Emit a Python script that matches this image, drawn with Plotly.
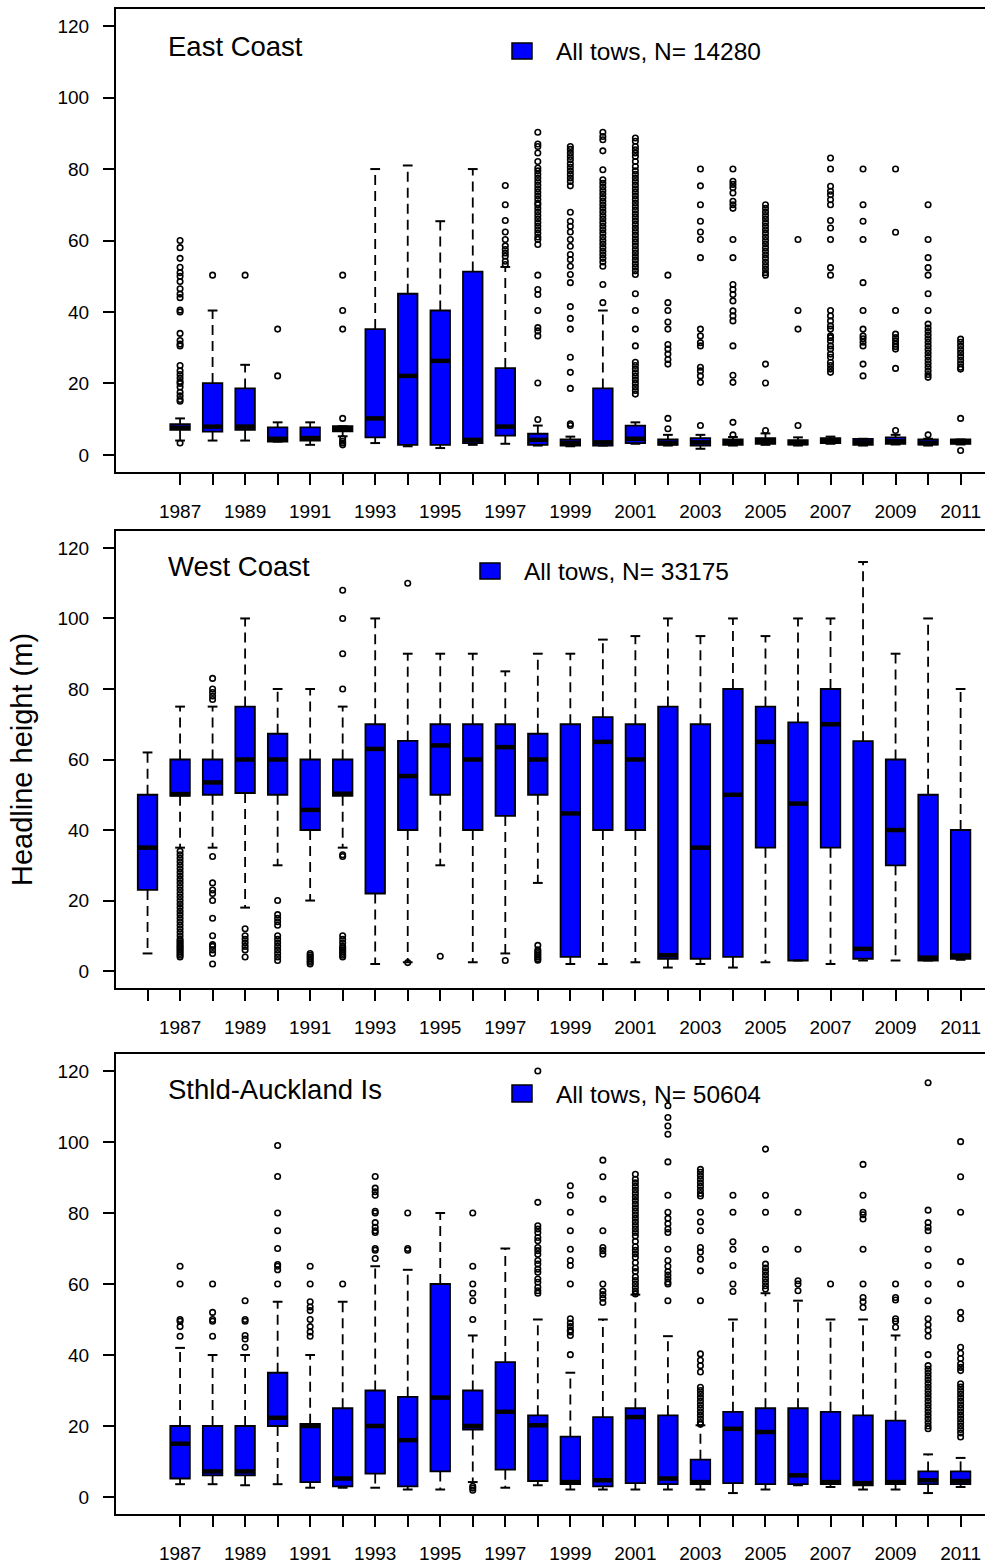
import plotly.graph_objects as go

W, H = 985, 1566

# ---------------- East Coast ----------------
ec_years = [1987, 1988, 1989, 1990, 1991, 1992, 1993, 1994, 1995, 1996, 1997, 1998, 1999,
            2000, 2001, 2002, 2003, 2004, 2005, 2006, 2007, 2008, 2009, 2010, 2011]
ec_q1 = [7.0, 6.5, 7.0, 3.7, 4.0, 6.6, 4.9, 2.8, 2.8, 3.3, 5.4, 2.8, 2.6,
         2.6, 3.3, 2.8, 2.6, 2.8, 3.1, 2.9, 3.3, 2.8, 3.1, 2.9, 3.1]
ec_med = [7.6, 7.9, 7.9, 4.5, 4.7, 7.2, 10.2, 22.1, 26.3, 4.2, 7.9, 4.2, 3.3,
          3.5, 4.5, 3.3, 3.5, 3.5, 3.8, 3.3, 4.0, 3.5, 3.8, 3.3, 3.6]
ec_q3 = [8.6, 20.1, 18.6, 7.7, 7.7, 8.0, 35.2, 45.1, 40.4, 51.3, 24.3, 5.9, 4.3,
         18.6, 8.2, 4.3, 4.7, 4.3, 4.7, 4.1, 4.7, 4.5, 4.9, 4.3, 4.3]
ec_lo = [4.0, 4.0, 4.0, 3.7, 2.8, 5.2, 3.3, 2.4, 1.9, 2.8, 3.1, 2.6, 2.4,
         2.6, 3.1, 2.6, 1.7, 2.6, 2.8, 2.6, 3.1, 2.6, 2.9, 2.6, 2.9]
ec_hi = [10.2, 40.4, 25.2, 9.1, 9.1, 8.0, 80.0, 81.0, 65.4, 80.0, 52.6, 8.2, 5.1,
         40.4, 9.1, 5.6, 5.6, 5.0, 6.0, 4.9, 5.1, 4.5, 5.6, 4.5, 4.3]
ec_out = [
    [60, 58, 55, 52.5, 51, 50, 48.5, 46.5, 45, 44, 40.5, 40, 34, 32, 31, 30.5, 25, 23.5,
     22.5, 21.5, 20.5, 20, 19, 17.5, 16.5, 15.5, 15, 3.3],
    [50.3],
    [50.3],
    [35.2, 22.1],
    [],
    [50.3, 40.4, 35.2, 10.2, 4.5, 3.8, 3.3, 2.8],
    [], [], [], [],
    [75.4, 70.0, 65.6, 62.4, 60.3, 58.5, 57.5, 56.5, 55.6, 54.2, 53.3],
    [90.3, 87.0, 86.3, 84.5, 82.1, 80.3, 79.5, 78.5, 77.5, 76.5, 75.5, 74.5, 73.5, 72.5,
     71.5, 70.5, 70, 69, 68, 67, 66, 65, 64, 63, 62, 61, 60.3, 58.9, 50.3, 46.3, 44.9,
     40.4, 35.6, 34.7, 33.3, 20.1, 9.9],
    [86.3, 85.5, 84.5, 83.5, 82.6, 81.5, 80.5, 79.5, 78.5, 77.5, 76.5, 75.3, 67.9, 65.4,
     64, 62.4, 60.3, 58.4, 56.1, 54.7, 52.8, 50.5, 48.2, 41.5, 38.2, 35.2, 27.3, 23.1,
     18.6, 8.7, 8.2],
    [90.3, 89.1, 88.2, 85.1, 79.8, 77, 76, 75, 74, 73, 72, 71, 70, 69, 68, 67, 66, 65,
     64, 63, 62, 61, 60, 59, 58, 57, 56, 55, 54, 52.8, 47.7, 42.6],
    [88.7, 87.8, 86.3, 85.4, 84.5, 83.5, 82.1, 80.7, 79.5, 78.5, 77.5, 76.5, 75.5, 74.5,
     73.5, 72.5, 71.5, 70.5, 69.5, 68.5, 67.5, 66.5, 65.5, 64.5, 63.5, 62.5, 61.5, 60.5,
     59.5, 58.5, 57.5, 56.5, 55.5, 54.5, 53.5, 52.5, 51.5, 50.5, 45.1, 40.4, 35.2, 30.5,
     25.9, 25, 24, 23, 22, 21, 20, 19, 18, 17],
    [50.3, 42.6, 40.4, 37.2, 35.2, 30.9, 29.6, 28.2, 26.7, 25.4, 10.2, 7.3],
    [80, 75.3, 70, 65.4, 62.4, 60.3, 55.2, 35.2, 33.3, 31.4, 30.5, 24.5, 23.5, 22.1,
     20.3, 8.2],
    [80, 76.6, 75.7, 74.8, 73.3, 71, 70, 69, 60.3, 55.2, 47.7, 46.3, 44.9, 43.1, 40.3,
     38.9, 37.5, 30.5, 22.3, 20.3, 9.1, 5.6],
    [70, 69, 68, 67, 66, 65, 64, 63, 62, 61, 60, 59, 58, 57, 56, 55, 54, 53, 52, 51,
     50.3, 25.4, 20.1, 6.8],
    [60.3, 40.4, 35.2, 8.2],
    [83.1, 80, 75.2, 73.8, 72.8, 71.4, 70, 65.6, 63.5, 60.3, 52.4, 50.3, 40.4, 38.9,
     37.5, 36.1, 35.2, 33.3, 32.8, 31.9, 30.5, 29.6, 28.2, 27.3, 25.9, 25, 24, 23.1],
    [80, 70, 65.4, 60.3, 48.2, 40.4, 35.2, 33.3, 32.5, 31.5, 30.5, 25.4, 22.1],
    [80, 62.3, 40.4, 33.8, 32.8, 31.9, 31, 30.3, 29.6, 24.2, 6.8],
    [70, 60.3, 55.2, 52.4, 50.3, 45.1, 40.4, 36.6, 35.5, 34.5, 33.5, 32.5, 31.5, 30.5,
     29.5, 28.5, 27.5, 26.5, 25.5, 24.5, 23.5, 22.5, 21.7, 5.6],
    [32.4, 31.5, 30.5, 29.5, 28.5, 27.5, 26.5, 25.5, 24.5, 24, 10.2, 1.2],
]

# ---------------- West Coast ----------------
wc_years = [1986, 1987, 1988, 1989, 1990, 1991, 1992, 1993, 1994, 1995, 1996, 1997, 1998,
            1999, 2000, 2001, 2002, 2003, 2004, 2005, 2006, 2007, 2008, 2009, 2010, 2011]
wc_q1 = [23.0, 49.7, 50.0, 50.5, 50.0, 40.0, 49.7, 22.0, 40.0, 50.0, 40.0, 44.0, 50.0,
         4.0, 40.0, 40.0, 3.5, 3.5, 4.0, 35.0, 3.0, 35.0, 3.5, 30.0, 3.0, 3.5]
wc_med = [35.0, 50.2, 53.5, 60.0, 60.0, 45.7, 50.3, 63.0, 55.3, 64.0, 60.0, 63.5, 60.0,
          44.7, 65.0, 60.0, 4.5, 35.0, 50.0, 65.0, 47.5, 70.0, 6.3, 40.0, 3.8, 4.4]
wc_q3 = [50.0, 60.0, 60.0, 75.0, 67.3, 60.0, 60.0, 70.0, 65.3, 70.0, 70.0, 70.0, 67.3,
         70.0, 72.0, 70.0, 75.0, 70.0, 80.0, 75.0, 70.5, 80.0, 65.2, 60.0, 50.0, 40.0]
wc_lo = [5.0, 35.0, 35.0, 18.0, 30.0, 20.0, 35.0, 2.0, 2.5, 30.0, 2.5, 5.0, 25.0,
         2.0, 2.0, 2.5, 1.0, 2.0, 1.0, 2.5, 3.0, 2.0, 3.0, 3.0, 3.0, 3.2]
wc_hi = [62, 75, 75, 100, 80, 80, 75, 100, 90, 90, 90, 85, 90,
         90, 94, 95, 100, 95, 100, 95, 100, 100, 116, 90, 100, 80]
wc_out = [
    [],
    [34, 33, 32, 31, 30, 29, 28, 27, 26, 25, 24, 23, 22, 21, 20, 19, 18, 17, 16, 15, 14,
     13, 12, 11, 10, 9, 8.5, 8, 7.5, 7, 6.5, 6, 5.5, 5, 4.5, 4],
    [83, 80, 79, 78, 77, 32.5, 25, 23, 22, 20, 15, 10, 7.5, 7, 6, 5, 2],
    [12, 10, 9, 8, 7, 6, 4],
    [20, 16, 15, 14, 13, 10, 9, 8, 7, 6, 5, 4, 3],
    [5, 4.5, 4, 3.5, 3, 2.5, 2],
    [108, 100, 90, 80, 33, 32.5, 10, 9, 8, 7, 6.5, 6, 5.5, 5, 4.5, 4],
    [],
    [110, 2.4],
    [4.2],
    [],
    [3.0],
    [7.3, 6, 5.5, 5, 4.5, 4, 3.5, 3.1],
    [], [], [], [], [], [], [], [], [], [], [], [], [],
]

# ---------------- Sthld-Auckland Is ----------------
sa_years = [1987, 1988, 1989, 1990, 1991, 1992, 1993, 1994, 1995, 1996, 1997, 1998, 1999,
            2000, 2001, 2002, 2003, 2004, 2005, 2006, 2007, 2008, 2009, 2010, 2011]
sa_q1 = [5.2, 6.1, 6.1, 20.0, 4.2, 3.0, 6.6, 3.0, 7.2, 19.0, 7.7, 4.5, 3.6,
         3.0, 3.9, 3.6, 3.6, 3.9, 3.6, 3.6, 3.6, 3.3, 3.6, 3.6, 3.6]
sa_med = [15.0, 7.2, 7.2, 22.3, 20.0, 5.2, 20.0, 16.0, 28.0, 20.0, 24.0, 20.2, 4.2,
          4.7, 22.5, 5.2, 4.2, 19.2, 18.3, 6.1, 4.2, 3.9, 4.2, 4.7, 4.5]
sa_q3 = [20.0, 20.0, 20.0, 35.0, 20.6, 25.0, 30.0, 28.2, 60.0, 30.0, 38.0, 23.0, 17.0,
         22.5, 25.0, 23.0, 10.5, 24.0, 25.0, 25.0, 24.0, 23.0, 21.5, 7.2, 7.2]
sa_lo = [3.6, 3.6, 3.3, 3.6, 2.6, 2.6, 2.6, 2.1, 2.1, 4.2, 2.6, 3.3, 2.1,
         2.1, 2.1, 2.1, 2.1, 1.1, 2.1, 3.3, 2.8, 2.1, 2.1, 1.1, 2.8]
sa_hi = [42, 40, 40, 55, 40, 55, 65, 64, 80, 45.5, 70, 50, 35,
         50, 57, 45.3, 20.2, 50, 57.4, 55.3, 50, 50, 45.5, 12, 11]
sa_out = [
    [65, 60, 50, 49.5, 48, 45.3],
    [60, 52, 50, 49.5, 45.3],
    [55.3, 50, 49.5, 45.5, 44.5, 42.2],
    [99, 90.3, 80, 75, 70, 65.5, 65, 64, 60],
    [65, 60, 55, 53.5, 52.5, 50, 48, 46.5, 45.3],
    [60],
    [90.3, 87, 86, 85, 80.5, 80, 77.3, 76, 75, 74.5, 70, 69.5, 67.2],
    [80, 70, 69.5],
    [],
    [80, 65, 60, 57.4, 55.3, 50, 3.0, 2.5, 1.9],
    [],
    [120, 83, 76.4, 75.5, 74.5, 73.1, 72.2, 70.3, 69.4, 68.4, 66.6, 65.6, 64.2, 63.3,
     61.4, 60.5, 59.1, 58.1, 57.4],
    [87.7, 85, 80.2, 75, 69.8, 66.6, 65.2, 60, 50.2, 49, 48, 47, 46.5, 45.5, 40.1],
    [94.9, 90.2, 83.9, 75, 70.3, 69.4, 68.4, 60, 58, 57, 56, 54.8],
    [90.9, 89.5, 88.5, 87.5, 86.5, 85.5, 84.5, 83.5, 82.5, 81.5, 80.5, 79.5, 78.5, 77.5,
     76.5, 75.5, 74.5, 73.5, 72, 70.5, 69.5, 68.5, 67.5, 66, 64.5, 63.5, 62, 61, 60, 59,
     58, 57.2],
    [110.2, 106.9, 104.5, 102.2, 94.4, 85, 80.2, 78.5, 77, 75.5, 74.5, 69.8, 66.6, 65,
     63.5, 62.5, 61.5, 60.5, 60, 55.3],
    [92.3, 91.5, 90.5, 89.5, 88.5, 87.5, 86.5, 85.5, 84.8, 80.2, 77.5, 75, 70.3, 69, 67,
     63.7, 55.3, 40.3, 38.5, 37, 35.2, 30.9, 30, 29, 28, 27, 26, 25, 24, 23, 22, 21, 20.5],
    [85, 80.2, 71.9, 69.8, 65.2, 60, 57.9],
    [98, 85, 80.2, 69.8, 65.6, 64.5, 63.5, 62.5, 61.5, 60.5, 59.5, 58.6],
    [80.2, 69.8, 60.9, 60, 58.1],
    [60],
    [93.7, 85, 80.2, 79.5, 78.3, 69.8, 60, 56.2, 55, 53.4],
    [60, 56.2, 55.5, 50.2, 49.5, 47.8],
    [116.7, 80.8, 77.3, 76, 75, 69.8, 65.2, 60, 55.3, 50.2, 48.5, 47, 45.3, 40.1, 37, 36,
     35, 34, 33, 32, 31, 30, 29, 28, 27, 26, 25, 24, 23, 22, 21, 20, 19.2],
    [100.1, 90.2, 80.2, 66.3, 60, 52, 50.2, 42.2, 40.5, 39, 37.5, 36.5, 35.6, 31.9, 31,
     30, 29, 28, 27, 26, 25, 24, 23, 22, 21, 20, 19, 18, 16.9],
]

panel_titles = ["East Coast", "West Coast", "Sthld-Auckland Is"]
legend_texts = ["All tows, N= 14280", "All tows, N= 33175", "All tows, N= 50604"]
y_title = "Headline height (m)"
y_ticks = [0, 20, 40, 60, 80, 100, 120]

FONT = "Liberation Sans, Arial, sans-serif"
BLUE = "#0000FF"
BOXW = 0.6
STAPLE = 0.15

panels = [
    (ec_years, ec_q1, ec_med, ec_q3, ec_lo, ec_hi, ec_out),
    (wc_years, wc_q1, wc_med, wc_q3, wc_lo, wc_hi, wc_out),
    (sa_years, sa_q1, sa_med, sa_q3, sa_lo, sa_hi, sa_out),
]

# pixel geometry of each panel frame (top, bottom)
frames = [(9, 472), (531, 988), (1054, 1514)]
x_left_px = 116


def py(p):
    return 1 - p / H


def px(p):
    return p / W


fig = go.Figure()
layout = dict(
    width=W, height=H, margin=dict(l=0, r=0, t=0, b=0),
    paper_bgcolor="white", plot_bgcolor="white", showlegend=False,
    font=dict(family=FONT, color="black"),
)

annotations = []
shapes = []

for i, (yrs, q1, med, q3, lo, hi, outs) in enumerate(panels):
    n = i + 1
    xa = "x" if n == 1 else f"x{n}"
    ya = "y" if n == 1 else f"y{n}"

    # whiskers (dashed)
    wx, wy = [], []
    for k, yr in enumerate(yrs):
        wx += [yr, yr, None, yr, yr, None]
        wy += [q3[k], hi[k], None, q1[k], lo[k], None]
    fig.add_trace(go.Scatter(x=wx, y=wy, mode="lines", xaxis=xa, yaxis=ya,
                             line=dict(color="black", width=1.8, dash="10px,6px"),
                             hoverinfo="skip"))
    # staples
    sx, sy = [], []
    for k, yr in enumerate(yrs):
        sx += [yr - STAPLE, yr + STAPLE, None, yr - STAPLE, yr + STAPLE, None]
        sy += [hi[k], hi[k], None, lo[k], lo[k], None]
    fig.add_trace(go.Scatter(x=sx, y=sy, mode="lines", xaxis=xa, yaxis=ya,
                             line=dict(color="black", width=2), hoverinfo="skip"))
    # boxes
    fig.add_trace(go.Bar(x=yrs, base=q1, y=[b - a for a, b in zip(q1, q3)],
                         width=BOXW, xaxis=xa, yaxis=ya,
                         marker=dict(color=BLUE, line=dict(color="black", width=1.8)),
                         hoverinfo="skip"))
    # medians
    mx, my = [], []
    for k, yr in enumerate(yrs):
        mx += [yr - BOXW / 2, yr + BOXW / 2, None]
        my += [med[k], med[k], None]
    fig.add_trace(go.Scatter(x=mx, y=my, mode="lines", xaxis=xa, yaxis=ya,
                             line=dict(color="black", width=4.5), hoverinfo="skip"))
    # outliers
    ox, oy = [], []
    for k, yr in enumerate(yrs):
        for v in outs[k]:
            ox.append(yr)
            oy.append(v)
    fig.add_trace(go.Scatter(x=ox, y=oy, mode="markers", xaxis=xa, yaxis=ya,
                             marker=dict(symbol="circle-open", size=5.5, color="black",
                                         line=dict(width=1.6, color="black")),
                             hoverinfo="skip"))

    top, bot = frames[i]
    ticktext = [str(y) if y % 2 == 1 else "" for y in yrs]
    xkey = "xaxis" if n == 1 else f"xaxis{n}"
    ykey = "yaxis" if n == 1 else f"yaxis{n}"
    layout[xkey] = dict(
        domain=[px(x_left_px), 1.0], anchor=ya, range=[1985.03, 2011.75],
        tickmode="array", tickvals=yrs, ticktext=ticktext,
        ticks="outside", ticklen=11, tickwidth=2, tickcolor="black",
        showline=True, linewidth=2, linecolor="black", mirror=True,
        showgrid=False, zeroline=False,
        tickfont=dict(size=19, family=FONT, color="black"),
        ticklabelstandoff=10, automargin=False, fixedrange=True,
    )
    layout[ykey] = dict(
        domain=[py(bot), py(top)], anchor=xa, range=[-4.8, 124.8],
        tickmode="array", tickvals=y_ticks, ticktext=[str(v) for v in y_ticks],
        ticks="outside", ticklen=11, tickwidth=2, tickcolor="black",
        showline=True, linewidth=2, linecolor="black", mirror=False,
        showgrid=False, zeroline=False,
        tickfont=dict(size=19, family=FONT, color="black"),
        ticklabelstandoff=10, automargin=False, fixedrange=True,
    )

# panel titles
title_y = [46.5, 567, 1089]
for t, yy in zip(panel_titles, title_y):
    annotations.append(dict(text=t, x=px(166), y=py(yy), xref="paper", yref="paper",
                            xanchor="left", yanchor="middle", showarrow=False,
                            font=dict(size=27.5, family=FONT, color="black")))

# legend keys
leg = [  # (box x0, box x1, box y0, box y1, text x, text y)
    (512, 532, 43, 59, 554, 51),
    (480, 500, 563, 579, 521.5, 571),
    (512, 532, 1085, 1102, 554, 1094),
]
for (bx0, bx1, by0, by1, tx, ty), lt in zip(leg, legend_texts):
    shapes.append(dict(type="rect", xref="paper", yref="paper",
                       x0=px(bx0), x1=px(bx1), y0=py(by1), y1=py(by0),
                       fillcolor=BLUE, line=dict(color="black", width=1.5)))
    annotations.append(dict(text=lt, x=px(tx), y=py(ty), xref="paper", yref="paper",
                            xanchor="left", yanchor="middle", showarrow=False,
                            font=dict(size=24.5, family=FONT, color="black")))

# y axis title
annotations.append(dict(text=y_title, x=px(22), y=py(760), xref="paper", yref="paper",
                        xanchor="center", yanchor="middle", textangle=-90, showarrow=False,
                        font=dict(size=29, family=FONT, color="black")))

layout["annotations"] = annotations
layout["shapes"] = shapes
fig.update_layout(**layout)
fig.update_layout(barmode="overlay")

fig.write_html("out.html", config={"displayModeBar": False})
